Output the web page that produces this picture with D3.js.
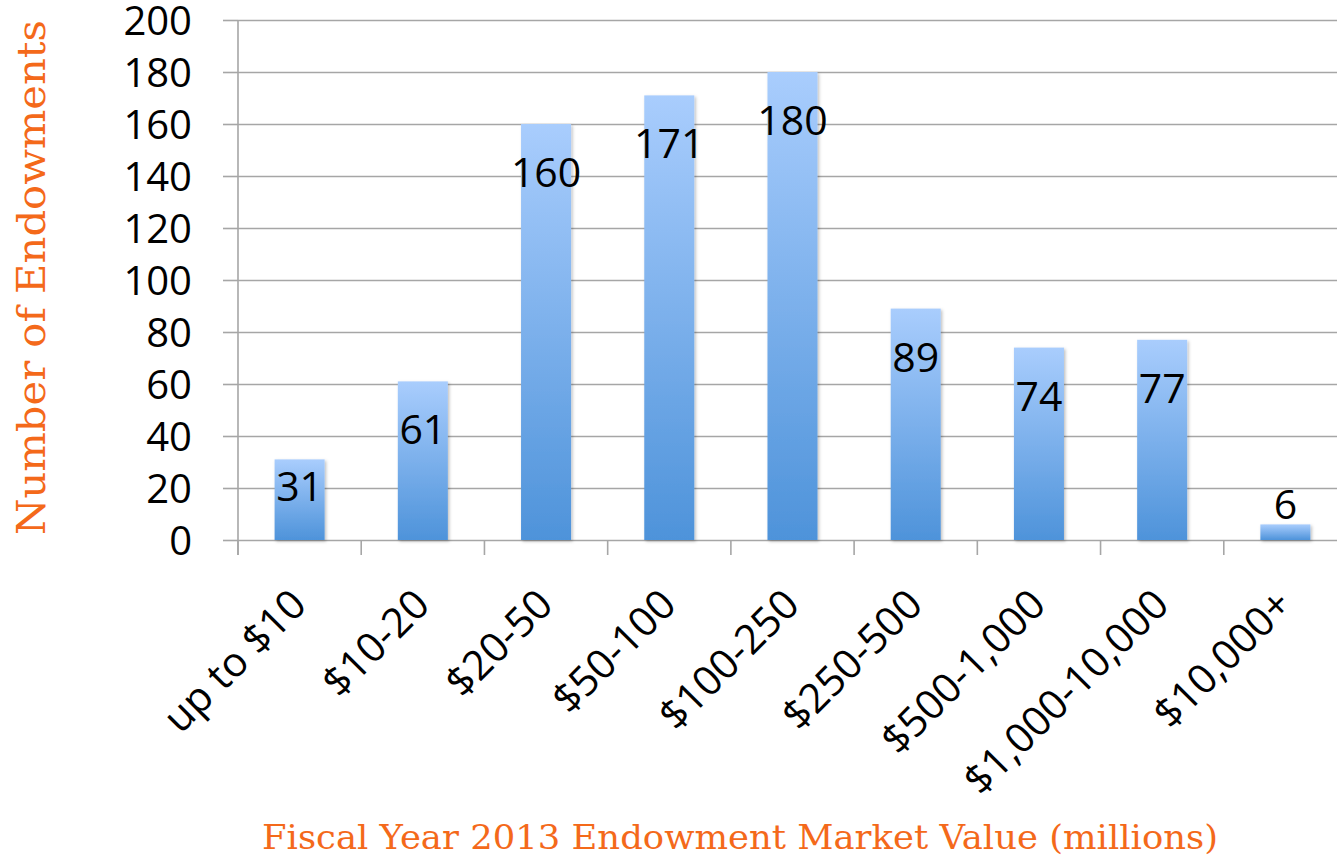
<!DOCTYPE html>
<html>
<head>
<meta charset="utf-8">
<script src="https://cdn.jsdelivr.net/npm/d3@7"></script>
<style>
  body { margin: 0; background: #fff; }
  svg { display: block; }
  .axis text { font-family: "Open Sans", sans-serif; fill: #000; }
  .axis path, .axis line { stroke: #a6a6a6; stroke-width: 1.6; }
</style>
</head>
<body>
<svg id="chart"></svg>
<script>
// chart values
const categories = ['up to $10', '$10-20', '$20-50', '$50-100', '$100-250',
                    '$250-500', '$500-1,000', '$1,000-10,000', '$10,000+'];
const counts = [31, 61, 160, 171, 180, 89, 74, 77, 6];
const yTicks = [0, 20, 40, 60, 80, 100, 120, 140, 160, 180, 200];
const xTitle = 'Fiscal Year 2013 Endowment Market Value (millions)';
const yTitle = 'Number of Endowments';

const W = 1337, H = 858;
const plotLeft = 238, plotRight = 1347, plotTop = 20, plotBottom = 540;
const orange = '#f4691a';

const svg = d3.select('#chart').attr('width', W).attr('height', H);

const data = categories.map((c, i) => ({cat: c, value: counts[i]}));

const x = d3.scaleBand()
    .domain(categories)
    .range([plotLeft, plotRight])
    .paddingInner(0.594)
    .paddingOuter(0.297);

const y = d3.scaleLinear()
    .domain([0, 200])
    .range([plotBottom, plotTop]);

// gradient + shadow for the bars
const defs = svg.append('defs');
const grad = defs.append('linearGradient')
    .attr('id', 'barGrad')
    .attr('x1', 0).attr('y1', 0).attr('x2', 0).attr('y2', 1);
grad.append('stop').attr('offset', '0%').attr('stop-color', '#a9cdfd');
grad.append('stop').attr('offset', '100%').attr('stop-color', '#4e93da');

const shadow = defs.append('filter').attr('id', 'shadow')
    .attr('x', '-20%').attr('y', '-20%').attr('width', '150%').attr('height', '150%');
shadow.append('feDropShadow')
    .attr('dx', 1.5).attr('dy', 1.5).attr('stdDeviation', 1.5)
    .attr('flood-color', '#000').attr('flood-opacity', 0.25);

// horizontal grid lines
svg.append('g')
    .attr('class', 'axis grid')
    .attr('transform', `translate(${plotLeft},0)`)
    .call(d3.axisLeft(y).tickValues(yTicks).tickSize(-(plotRight - plotLeft)).tickFormat(''))
    .call(g => g.select('.domain').remove());

// y axis with outside ticks and labels
svg.append('g')
    .attr('class', 'axis y-axis')
    .attr('transform', `translate(${plotLeft},0)`)
    .call(d3.axisLeft(y).tickValues(yTicks).tickSize(15).tickPadding(31).tickSizeOuter(0))
    .call(g => g.select('.domain').remove())
    .call(g => g.selectAll('text').attr('font-size', 40).attr('dy', '0.36em'));

// vertical axis line reaching down to the tick marks
svg.append('line')
    .attr('x1', plotLeft).attr('x2', plotLeft)
    .attr('y1', plotTop).attr('y2', plotBottom + 15)
    .attr('stroke', '#a6a6a6').attr('stroke-width', 1.6);

// x axis: tick marks sit on the category boundaries
const step = x.step();
const boundaries = d3.range(categories.length + 1).map(i => plotLeft + i * step);
svg.append('g')
    .attr('class', 'axis x-ticks')
    .selectAll('line')
    .data(boundaries)
    .join('line')
    .attr('x1', d => d).attr('x2', d => d)
    .attr('y1', plotBottom).attr('y2', plotBottom + 15);

// bars
svg.append('g')
    .selectAll('rect')
    .data(data)
    .join('rect')
    .attr('x', d => x(d.cat))
    .attr('y', d => y(d.value))
    .attr('width', x.bandwidth())
    .attr('height', d => y(0) - y(d.value))
    .attr('fill', 'url(#barGrad)')
    .attr('filter', 'url(#shadow)');

// value labels: inside the top end, above when the bar is too short
svg.append('g')
    .selectAll('text')
    .data(data)
    .join('text')
    .attr('x', d => x(d.cat) + x.bandwidth() / 2)
    .attr('y', d => {
      const h = y(0) - y(d.value);
      if (h < 70) return y(d.value) - 5;
      return Math.min(y(d.value) + 63, y(0) - 39);
    })
    .attr('text-anchor', 'middle')
    .attr('font-family', '"Open Sans", sans-serif')
    .attr('font-size', 41)
    .attr('fill', '#000')
    .text(d => d.value);

// rotated category labels
svg.append('g')
    .attr('class', 'axis x-labels')
    .selectAll('text')
    .data(categories)
    .join('text')
    .attr('transform', d => `translate(${x(d) + x.bandwidth() / 2 + 9},607) rotate(-45)`)
    .attr('text-anchor', 'end')
    .attr('font-size', 41)
    .text(d => d);

// axis titles
svg.append('text')
    .attr('x', 262).attr('y', 849)
    .attr('font-family', '"DejaVu Serif", serif')
    .attr('font-size', 34)
    .attr('fill', orange)
    .attr('textLength', 956)
    .attr('lengthAdjust', 'spacingAndGlyphs')
    .text(xTitle);

svg.append('text')
    .attr('transform', 'translate(45,535) rotate(-90)')
    .attr('font-family', '"DejaVu Serif", serif')
    .attr('font-size', 40)
    .attr('fill', orange)
    .attr('textLength', 515)
    .attr('lengthAdjust', 'spacingAndGlyphs')
    .text(yTitle);
</script>
</body>
</html>
